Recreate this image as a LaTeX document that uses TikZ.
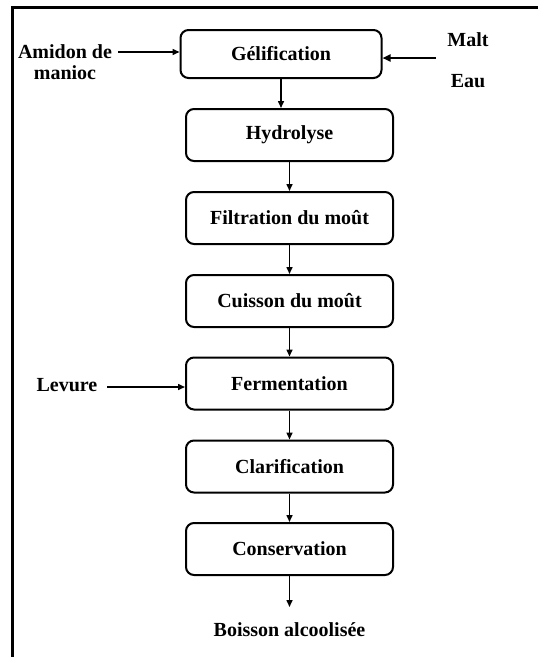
\documentclass[tikz,border=0pt]{standalone}
\usepackage{fontspec}
\setmainfont{Liberation Serif}
\usetikzlibrary{arrows.meta}
\tikzset{
  procbox/.style={draw, rounded corners=8pt, line width=2pt, minimum width=207pt, minimum height=52pt, inner sep=0pt, font=\bfseries\fontsize{20}{21}\selectfont},
  lbl/.style={inner sep=0pt, font=\bfseries\fontsize{20}{21}\selectfont, align=center},
  flow/.style={line width=1.5pt, -{Triangle[length=7pt,width=6pt]}},
  flowthick/.style={line width=2.5pt, -{Triangle[length=8pt,width=7pt]}}
}
\begin{document}
\begin{tikzpicture}[x=1pt,y=-1pt]
\useasboundingbox (0,0) rectangle (538,657);
\draw[line width=3pt] (12,657) -- (12,7) -- (538,7);

\node[procbox, minimum width=201pt, minimum height=48pt] (gel) at (281,54) {Gélification};
\node[procbox] (hyd) at (289.5,135) {Hydrolyse};
\node[procbox] (fil) at (289.5,218) {Filtration du moût};
\node[procbox] (cui) at (289.5,301) {Cuisson du moût};
\node[procbox] (fer) at (289.5,383.5) {Fermentation};
\node[procbox] (cla) at (289.5,466.5) {Clarification};
\node[procbox] (con) at (289.5,549) {Conservation};
\node[lbl] (out) at (289.5,630) {Boisson alcoolisée};

\node[lbl] (ami) at (65,62) {Amidon de\\manioc};
\node[lbl] (malt) at (468,40) {Malt};
\node[lbl] (eau) at (468,81) {Eau};
\node[lbl] (lev) at (67,385) {Levure};

\coordinate (amis) at (118,52);
\coordinate (malts) at (436,58);
\coordinate (levs) at (107,387);
\coordinate (outn) at (289.5,607);

\draw[flow] (amis) -- (amis -| gel.west);
\draw[flowthick] (malts) -- (malts -| gel.east);
\draw[flow] (levs) -- (levs -| fer.west);

\draw[flow] (gel.south) -- (gel.south |- hyd.north);
\draw[flow] (hyd) -- (fil);
\draw[flow] (fil) -- (cui);
\draw[flow] (cui) -- (fer);
\draw[flow] (fer) -- (cla);
\draw[flow] (cla) -- (con);
\draw[flow] (con.south) -- (outn);
\end{tikzpicture}
\end{document}
